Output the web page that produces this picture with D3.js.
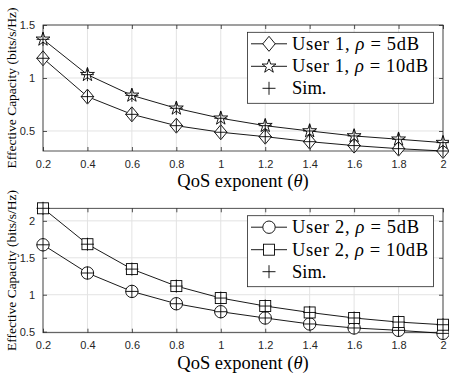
<!DOCTYPE html>
<html><head><meta charset="utf-8">
<script src="https://cdn.jsdelivr.net/npm/d3@7"></script>
<style>body{margin:0;background:#fff}</style>
</head><body>
<svg id="c" width="449" height="375"></svg>
<script>
const theta = [0.2,0.4,0.6,0.8,1.0,1.2,1.4,1.6,1.8,2.0];
const u1_5dB  = [1.186,0.824,0.657,0.550,0.488,0.446,0.399,0.362,0.333,0.311];
const u1_10dB = [1.365,1.031,0.836,0.714,0.620,0.550,0.500,0.453,0.422,0.390];
const u2_5dB  = [1.676,1.294,1.045,0.878,0.770,0.685,0.604,0.550,0.518,0.477];
const u2_10dB = [2.170,1.684,1.347,1.117,0.955,0.847,0.760,0.685,0.630,0.594];
const xTicks = [0.2,0.4,0.6,0.8,1,1.2,1.4,1.6,1.8,2];
const yTicksTop = [0.5,1,1.5];
const yTicksBot = [0.5,1,1.5,2];
const legendTop = [["User 1, ","5dB","diamond"],["User 1, ","10dB","star"]];
const legendBot = [["User 2, ","5dB","circle"],["User 2, ","10dB","square"]];

const svg = d3.select("#c");
const axColor = "#262626";

function drawMarker(g, type, x, y){
  let el;
  if(type==="diamond") el = g.append("path").attr("d","M0,-7.5L6.2,0L0,7.5L-6.2,0Z");
  else if(type==="star") el = g.append("path").attr("d", d3.symbol(d3.symbolStar, 60)());
  else if(type==="circle") el = g.append("circle").attr("r",6.2);
  else if(type==="square") el = g.append("rect").attr("x",-5.5).attr("y",-5.5).attr("width",11).attr("height",11);
  el.attr("transform",`translate(${x},${y})`).attr("fill","#fff").attr("stroke","#000").attr("stroke-width",0.9);
}
function drawPlus(g,x,y){
  g.append("path").attr("d",`M${x-6.5},${y}H${x+6.5}M${x},${y-6.5}V${y+6.5}`)
   .attr("stroke","#000").attr("stroke-width",0.9).attr("fill","none");
}

function panel(top, bottom, yDomain, yTicks, series, legend, legTop){
  const left=43, right=443;
  const x = d3.scaleLinear().domain([0.2,2]).range([left,right]);
  const y = d3.scaleLinear().domain(yDomain).range([bottom,top]);
  const g = svg.append("g");
  g.append("g").selectAll("line").data(xTicks).join("line")
    .attr("x1",d=>x(d)).attr("x2",d=>x(d)).attr("y1",top).attr("y2",bottom)
    .attr("stroke","#e3e3e3").attr("stroke-width",1);
  g.append("g").selectAll("line").data(yTicks).join("line")
    .attr("x1",left).attr("x2",right).attr("y1",d=>y(d)).attr("y2",d=>y(d))
    .attr("stroke","#e3e3e3").attr("stroke-width",1);
  const xa = g.append("g").attr("transform",`translate(0,${bottom})`)
    .call(d3.axisBottom(x).tickValues(xTicks).tickSize(-4).tickPadding(9).tickFormat(d3.format("")));
  const xt = g.append("g").attr("transform",`translate(0,${top})`)
    .call(d3.axisTop(x).tickValues(xTicks).tickSize(-4).tickFormat(""));
  const ya = g.append("g").attr("transform",`translate(${left},0)`)
    .call(d3.axisLeft(y).tickValues(yTicks).tickSize(-4).tickPadding(8).tickFormat(d3.format("")));
  const yr = g.append("g").attr("transform",`translate(${right},0)`)
    .call(d3.axisRight(y).tickValues(yTicks).tickSize(-4).tickFormat(""));
  [xa,xt,ya,yr].forEach(a=>{
    a.select(".domain").remove();
    a.selectAll("line").attr("stroke",axColor).attr("stroke-width",0.8);
    a.selectAll("text").attr("fill",axColor).attr("font-family","Liberation Sans, Arial, sans-serif").attr("font-size",11);
  });
  g.append("rect").attr("x",left).attr("y",top).attr("width",right-left).attr("height",bottom-top)
    .attr("fill","none").attr("stroke",axColor).attr("stroke-width",0.8);
  const line = d3.line().x((d,i)=>x(theta[i])).y(d=>y(d));
  series.forEach(([vals,type])=>{
    g.append("path").datum(vals).attr("d",line).attr("fill","none").attr("stroke","#000").attr("stroke-width",0.9);
  });
  series.forEach(([vals,type])=>{
    vals.forEach((v,i)=>drawMarker(g,type,x(theta[i]),y(v)));
    vals.forEach((v,i)=>drawPlus(g,x(theta[i]),y(v)));
  });
  g.append("text").attr("x",(left+right)/2).attr("y",bottom+36).attr("text-anchor","middle")
    .attr("font-family","Liberation Serif, serif").attr("font-size",18.5).attr("fill","#000")
    .html('QoS exponent (<tspan font-style="italic">θ</tspan>)');
  g.append("text").attr("transform",`translate(16,${(top+bottom)/2}) rotate(-90)`).attr("text-anchor","middle")
    .attr("font-family","Liberation Serif, serif").attr("font-size",13.5).attr("fill","#000")
    .text("Effective Capacity (bits/s/Hz)");
  const lx=247.5, lw=186, lh=71;
  const lg = g.append("g");
  lg.append("rect").attr("x",lx).attr("y",legTop).attr("width",lw).attr("height",lh)
    .attr("fill","#fff").attr("stroke",axColor).attr("stroke-width",0.8);
  const rows=[legTop+11.5, legTop+34, legTop+56];
  const widths=[127,136];
  legend.forEach(([pre,val,type],i)=>{
    const yy=rows[i];
    lg.append("line").attr("x1",251).attr("x2",287).attr("y1",yy).attr("y2",yy).attr("stroke","#000").attr("stroke-width",0.9);
    drawMarker(lg,type,269,yy);
    lg.append("text").attr("x",292).attr("y",yy+6).attr("font-family","Liberation Serif, serif")
      .attr("font-size",18.5).attr("fill","#000")
      .attr("textLength",widths[i]).attr("lengthAdjust","spacing")
      .html(`${pre}<tspan font-style="italic">ρ</tspan> = ${val}`);
  });
  drawPlus(lg,269,rows[2]);
  lg.append("text").attr("x",292).attr("y",rows[2]+6).attr("font-family","Liberation Serif, serif")
    .attr("font-size",18.5).attr("fill","#000").text("Sim.");
}

panel(25,151,[0.311,1.5],yTicksTop,[[u1_5dB,"diamond"],[u1_10dB,"star"]],legendTop,32.3);
panel(208.3,332.7,[0.486,2.17],yTicksBot,[[u2_5dB,"circle"],[u2_10dB,"square"]],legendBot,215.7);
</script>
</body></html>
